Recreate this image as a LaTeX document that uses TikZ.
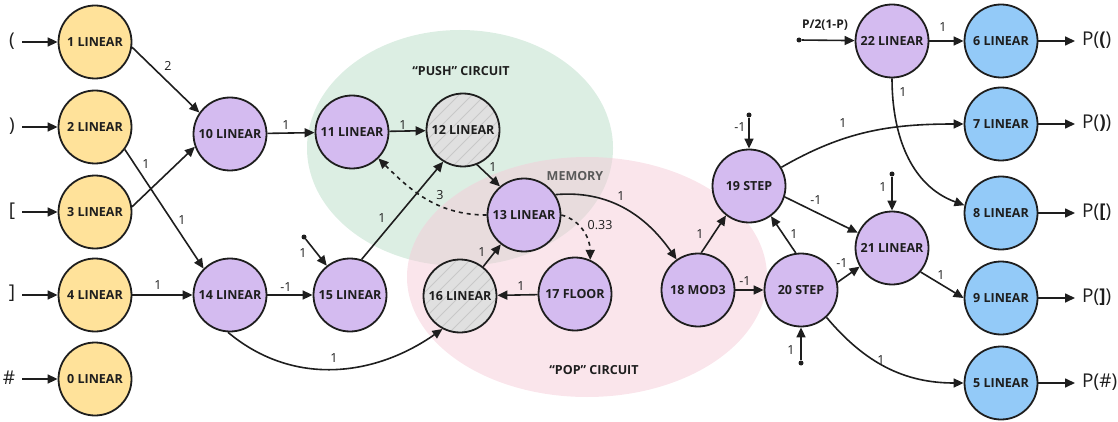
\documentclass[tikz,border=0pt]{standalone}
\usepackage{fontspec}
\setmainfont{Open Sans}
\usetikzlibrary{arrows.meta}
\definecolor{cyel}{HTML}{FFE29A}
\definecolor{cpur}{HTML}{D4BBF0}
\definecolor{cblu}{HTML}{93CAF8}
\definecolor{cgry}{HTML}{E0E0E0}
\definecolor{chat}{HTML}{C8C8C8}
\definecolor{cgrn}{HTML}{BADDC8}
\definecolor{cpnk}{HTML}{F5CCD8}
\definecolor{cink}{HTML}{1E1E1E}
\definecolor{cmem}{HTML}{5A5A5A}
\begin{document}
\begin{tikzpicture}[x=1pt,y=1pt,
  neuron/.style={circle, draw=cink, line width=1.8pt, minimum size=73pt, inner sep=0pt,
    font=\fontsize{12.5}{14}\selectfont\bfseries, text=cink},
  yel/.style={neuron, fill=cyel},
  pur/.style={neuron, fill=cpur},
  blu/.style={neuron, fill=cblu},
  mem/.style={neuron, fill=cgry, path picture={
    \foreach \k in {-5,...,5}{\draw[chat, line width=1pt] (path picture bounding box.center) ++(\k*13-60,-60) -- ++(120,120);}}},
  arr/.style={draw=cink, line width=1.6pt, -{Triangle[length=10pt,width=9pt]}},
  dsh/.style={arr, dash pattern=on 4pt off 4pt},
  lbl/.style={font=\fontsize{12.5}{14}\selectfont, text=cink, inner sep=1pt},
  io/.style={font=\fontsize{19}{22}\selectfont, text=cink, inner sep=0pt},
  pin/.style={circle, fill=cink, inner sep=0pt, minimum size=5pt},
  grp/.style={font=\fontsize{12.5}{14}\selectfont\bfseries, text=cink},
]
\useasboundingbox (0,0) rectangle (1118,-422);
% groups
\fill[cgrn, opacity=0.5] (460,-148) ellipse [x radius=153, y radius=118];
\fill[cpnk, opacity=0.5] (587,-277) ellipse [x radius=180, y radius=120];
\node[grp] (gpush) at (461,-71) {“PUSH” CIRCUIT};
\node[grp, text=cmem] (gmem) at (575,-176) {MEMORY};
\node[grp] (gpop) at (594,-370) {“POP” CIRCUIT};
% nodes
\node[yel] (n1) at (95,-42) {1 LINEAR};
\node[yel] (n2) at (95,-127) {2 LINEAR};
\node[yel] (n3) at (95,-212) {3 LINEAR};
\node[yel] (n4) at (95,-295) {4 LINEAR};
\node[yel] (n0) at (95,-379) {0 LINEAR};
\node[pur] (n10) at (230,-134) {10 LINEAR};
\node[pur] (n14) at (230,-295) {14 LINEAR};
\node[pur] (n11) at (352,-132) {11 LINEAR};
\node[mem] (n12) at (463,-130) {12 LINEAR};
\node[pur] (n15) at (350,-295) {15 LINEAR};
\node[pur] (n13) at (524,-215) {13 LINEAR};
\node[mem] (n16) at (460,-296) {16 LINEAR};
\node[pur] (n17) at (575,-294) {17 FLOOR};
\node[pur] (n18) at (698,-290) {18 MOD3};
\node[pur] (n19) at (749,-186) {19 STEP};
\node[pur] (n20) at (801,-290) {20 STEP};
\node[pur] (n21) at (892,-248) {21 LINEAR};
\node[pur] (n22) at (892,-41) {22 LINEAR};
\node[blu] (n6) at (1001,-41) {6 LINEAR};
\node[blu] (n7) at (1001,-124) {7 LINEAR};
\node[blu] (n8) at (1001,-213) {8 LINEAR};
\node[blu] (n9) at (1001,-298) {9 LINEAR};
\node[blu] (n5) at (1001,-383) {5 LINEAR};
% inputs
\node[io] (i1) at (12,-41) {(};
\node[io] (i2) at (12,-126) {)};
\node[io] (i3) at (12,-211) {[};
\node[io] (i4) at (12,-293) {]};
\node[io] (i0) at (9,-378) {\#};
\coordinate (s1) at (22,-42);
\coordinate (s2) at (22,-127);
\coordinate (s3) at (22,-212);
\coordinate (s4) at (22,-295);
\coordinate (s0) at (22,-379);
\foreach \a in {1,2,3,4,0}{\draw[arr] (s\a) -- (n\a);}
% outputs
\node[io, anchor=west] (o6) at (1082,-40) {P(\textbf{(})};
\node[io, anchor=west] (o7) at (1082,-123) {P(\textbf{)})};
\node[io, anchor=west] (o8) at (1082,-212) {P(\textbf{[})};
\node[io, anchor=west] (o9) at (1082,-297) {P(\textbf{]})};
\node[io, anchor=west] (o5) at (1082,-382) {P(\#)};
\coordinate (e6) at (1075,-41);
\coordinate (e7) at (1075,-124);
\coordinate (e8) at (1075,-213);
\coordinate (e9) at (1075,-298);
\coordinate (e5) at (1075,-383);
\foreach \a in {6,7,8,9,5}{\draw[arr] (n\a) -- (e\a);}
% pins
\node[pin] (p15) at (304,-237) {};
\node[pin] (p19) at (749,-115) {};
\node[pin] (p20) at (801,-363) {};
\node[pin] (p21) at (892,-174) {};
\node[pin] (p22) at (799,-40) {};
\draw[arr] (p15) -- (n15);
\draw[arr] (p19) -- (n19);
\draw[arr] (p20) -- (n20);
\draw[arr] (p21) -- (n21);
\draw[arr] (p22) -- (n22);
\node[lbl] at (303,-253) {1};
\node[lbl] at (740,-127) {-1};
\node[lbl] at (791,-350) {1};
\node[lbl] at (883,-187) {1};
\node[lbl, font=\fontsize{12}{14}\selectfont\bfseries] at (825,-25) {P/2(1-P)};
% edges
\draw[arr] (n1.-8) -- (n10.145);
\draw[arr] (n3.8) -- (n10.-160);
\draw[arr] (n2.-37) -- (n14.135);
\draw[arr] (n4) -- (n14);
\draw[arr] (n10) -- (n11);
\draw[arr] (n14) -- (n15);
\draw[arr] (n11) -- (n12);
\draw[arr] (n15.72) -- (n12.-122);
\draw[arr] (n12.-68) -- (n13.130);
\draw[arr] (n16) -- (n13);
\draw[arr] (n17) -- (n16);
\draw[arr] (n18.85) -- (n19.-128);
\draw[arr] (n18) -- (n20);
\draw[arr] (n20.98) -- (n19.-54);
\draw[arr] (n19.-17) -- (n21.156);
\draw[arr] (n20.12) -- (n21.-150);
\draw[arr] (n21.-40) -- (n9.west);
\draw[arr] (n22) -- (n6);
\draw[arr] (n14.-93) to[out=-40, in=-145] (n16.-118);
\draw[dsh] (n13.west) to[out=180, in=-45] (n11.-45);
\draw[dsh] (n13.east) to[out=-15, in=90] (n17.66);
\draw[arr] (n13.33) to[out=5, in=125] (n18.125);
\draw[arr] (n19.30) to[out=30, in=180] (n7.west);
\draw[arr] (n22.south) to[out=-90, in=160] (n8.168);
\draw[arr] (n20.-47) to[out=-50, in=180] (n5.west);
% edge labels
\node[lbl] at (168,-66) {2};
\node[lbl] at (146,-164) {1};
\node[lbl] at (182,-220) {1};
\node[lbl] at (158,-285) {1};
\node[lbl] at (286,-125) {1};
\node[lbl] at (286,-287) {-1};
\node[lbl] at (403,-125) {1};
\node[lbl] at (493,-167) {1};
\node[lbl] at (382,-218) {1};
\node[lbl] at (440,-195) {3};
\node[lbl] at (600,-225) {0.33};
\node[lbl] at (482,-252) {1};
\node[lbl] at (521,-286) {1};
\node[lbl] at (334,-358) {1};
\node[lbl] at (621,-196) {1};
\node[lbl] at (700,-234) {1};
\node[lbl] at (745,-281) {-1};
\node[lbl] at (794,-234) {1};
\node[lbl] at (816,-200) {-1};
\node[lbl] at (842,-263) {-1};
\node[lbl] at (843,-123) {1};
\node[lbl] at (903,-92) {1};
\node[lbl] at (943,-27) {1};
\node[lbl] at (941,-275) {1};
\node[lbl] at (881,-360) {1};
\end{tikzpicture}
\end{document}
